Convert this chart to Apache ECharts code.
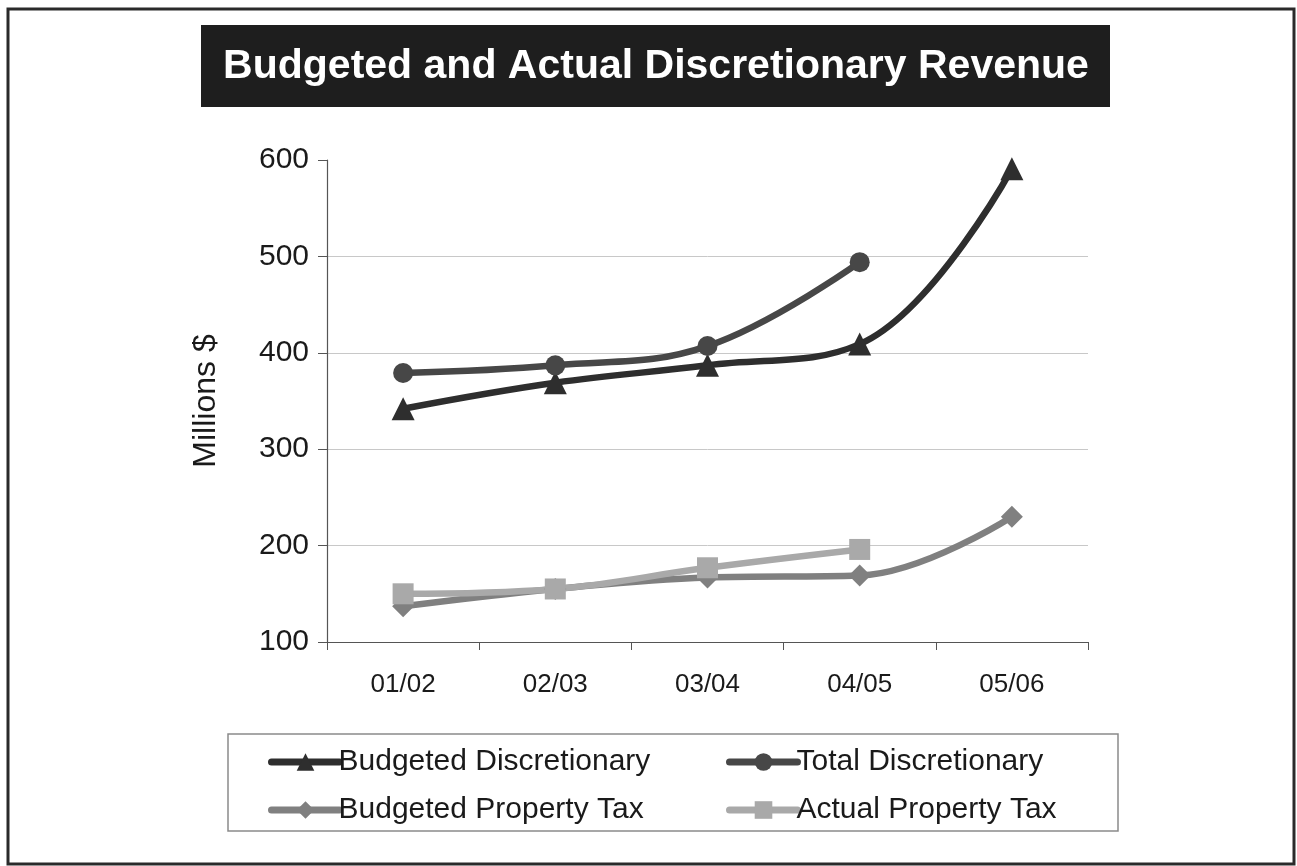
<!DOCTYPE html>
<html>
<head>
<meta charset="utf-8">
<title>Budgeted and Actual Discretionary Revenue</title>
<script src="https://cdn.jsdelivr.net/npm/echarts@6/dist/echarts.min.js"></script>
<style>
  html, body { margin: 0; padding: 0; background: #fff; }
  #chart { width: 1297px; height: 866px; }
</style>
</head>
<body>
<div id="chart"></div>
<script>
// Fiscal years on the category axis
const years = ['01/02', '02/03', '03/04', '04/05', '05/06'];

// Revenue in millions of dollars (null = not yet reported)
const budgetedDiscretionary = [342, 369, 387, 409, 591];
const totalDiscretionary = [379, 387, 407, 494, null];
const budgetedPropertyTax = [137, 155, 167, 169, 230];
const actualPropertyTax = [150, 155, 177, 196, null];

// Value axis ticks
const yTicks = [100, 200, 300, 400, 500, 600];

const FONT = '"Liberation Sans", Arial, sans-serif';

function lineSeries(name, data, color, symbol, size) {
  return {
    name: name,
    type: 'line',
    data: data,
    smooth: 0.4,
    symbol: symbol,
    symbolSize: size,
    connectNulls: false,
    lineStyle: { color: color, width: 6.5, cap: 'round', join: 'round' },
    itemStyle: { color: color },
    emphasis: { disabled: true },
    animation: false
  };
}

function legendBlock(names, left) {
  return {
    data: names,
    orient: 'vertical',
    left: left,
    top: 740,
    itemWidth: 68,
    itemHeight: 22,
    itemGap: 14,
    lineStyle: { width: 7, cap: 'round' },
    textStyle: { fontFamily: FONT, fontSize: 30, color: '#1a1a1a', lineHeight: 34, padding: [0, 0, 0, -6] },
    selectedMode: false
  };
}

const chart = echarts.init(document.getElementById('chart'), null, { renderer: 'canvas' });

chart.setOption({
  backgroundColor: '#ffffff',
  animation: false,
  grid: { left: 327, right: 209, top: 160, bottom: 224, containLabel: false },
  xAxis: {
    type: 'category',
    data: years,
    boundaryGap: true,
    axisLine: { lineStyle: { color: '#555', width: 1.2 } },
    axisTick: { show: true, interval: 0, length: 8, lineStyle: { color: '#555' } },
    axisLabel: { margin: 30, fontFamily: FONT, fontSize: 26, color: '#1a1a1a' },
    splitLine: { show: false }
  },
  yAxis: {
    type: 'value',
    min: yTicks[0],
    max: yTicks[yTicks.length - 1],
    interval: yTicks[1] - yTicks[0],
    name: 'Millions $',
    nameLocation: 'middle',
    nameRotate: 90,
    nameGap: 105,
    nameTextStyle: { fontFamily: FONT, fontSize: 32, color: '#1a1a1a' },
    axisLine: { show: true, lineStyle: { color: '#555', width: 1.2 } },
    axisTick: { show: true, length: 9, lineStyle: { color: '#555' } },
    axisLabel: { margin: 18, fontFamily: FONT, fontSize: 30, color: '#1a1a1a' },
    splitLine: { show: true, showMinLine: false, showMaxLine: false, lineStyle: { color: '#c8c8c8', width: 1 } }
  },
  legend: [
    legendBlock(['Budgeted Discretionary', 'Budgeted Property Tax'], 263),
    legendBlock(['Total Discretionary', 'Actual Property Tax'], 721)
  ],
  graphic: [
    // outer frame
    {
      type: 'rect', silent: true, z: -1,
      shape: { x: 8, y: 9, width: 1286, height: 855 },
      style: { fill: null, stroke: '#2a2a2a', lineWidth: 3 }
    },
    // title banner
    {
      type: 'rect', silent: true,
      shape: { x: 201, y: 25, width: 909, height: 82 },
      style: { fill: '#1e1e1e' }
    },
    {
      type: 'text', silent: true,
      x: 656, y: 67,
      style: {
        text: 'Budgeted and Actual Discretionary Revenue',
        fill: '#ffffff',
        font: 'bold 41px ' + FONT,
        align: 'center',
        verticalAlign: 'middle'
      }
    },
    // legend box
    {
      type: 'rect', silent: true,
      shape: { x: 228, y: 734, width: 890, height: 97 },
      style: { fill: null, stroke: '#8a8a8a', lineWidth: 1.5 }
    }
  ],
  series: [
    lineSeries('Budgeted Discretionary', budgetedDiscretionary, '#2e2e2e', 'triangle', 23),
    lineSeries('Total Discretionary', totalDiscretionary, '#474747', 'circle', 20),
    lineSeries('Budgeted Property Tax', budgetedPropertyTax, '#808080', 'diamond', 22),
    lineSeries('Actual Property Tax', actualPropertyTax, '#a9a9a9', 'rect', 21)
  ]
});
</script>
</body>
</html>
